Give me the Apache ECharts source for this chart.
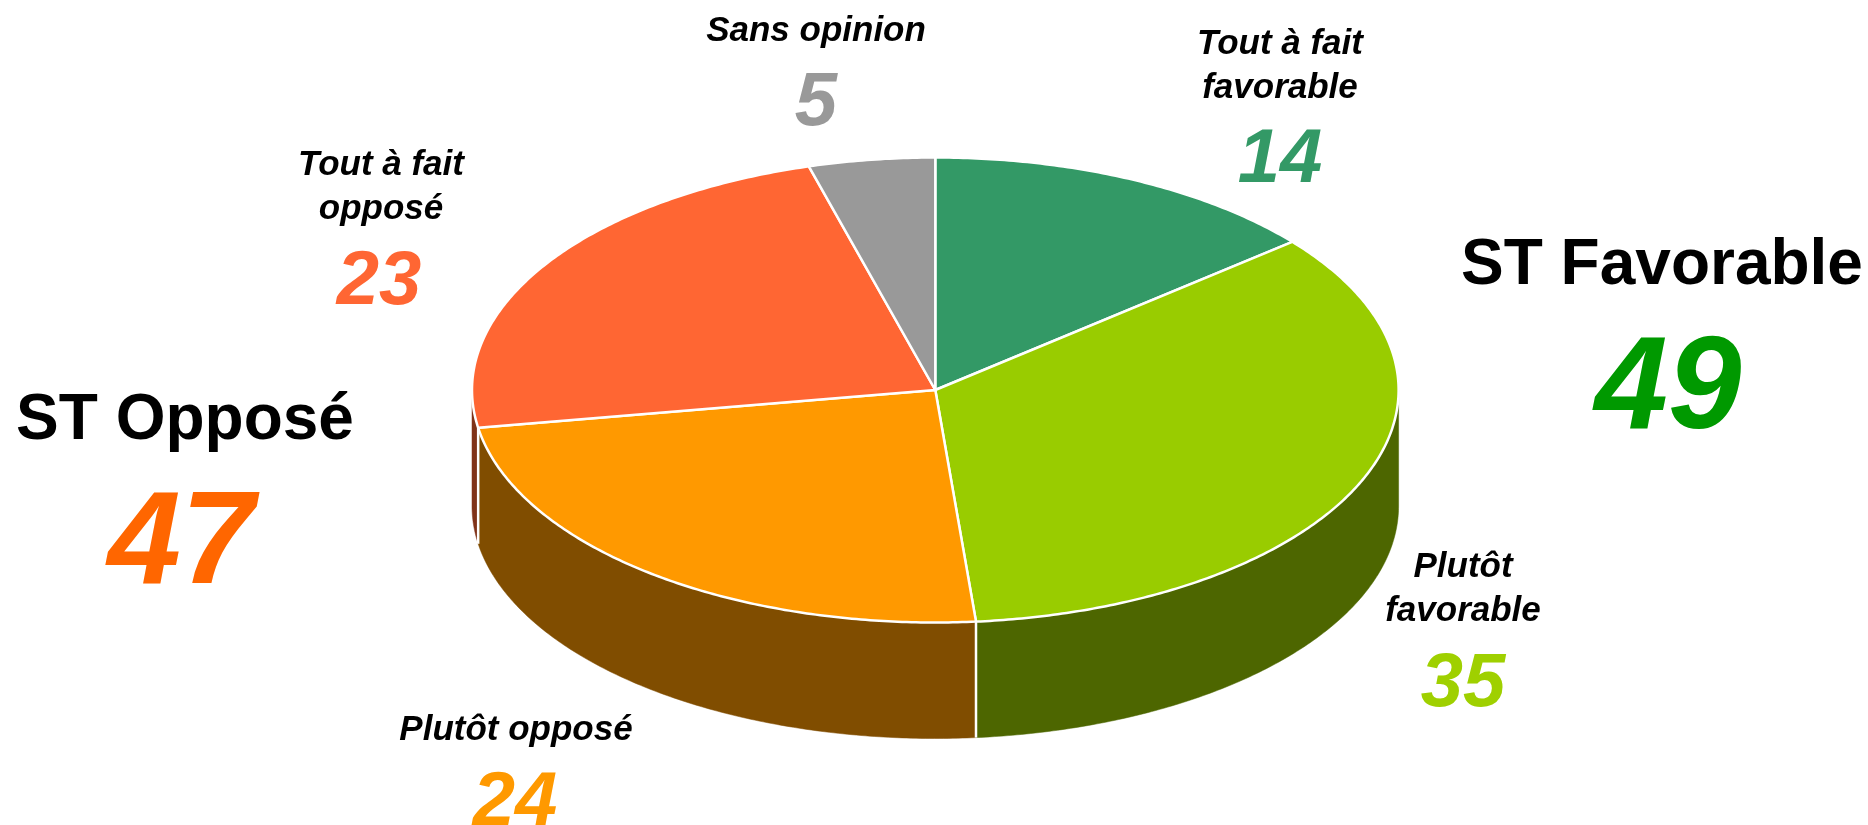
<!DOCTYPE html>
<html><head><meta charset="utf-8">
<style>html,body{margin:0;padding:0;background:#fff}#c{width:1868px;height:825px}</style>
<script src="https://cdn.jsdelivr.net/npm/echarts@6/dist/echarts.min.js"></script>
</head><body><div id="c"></div>
<script>
// data
var categories = ['Tout à fait\nfavorable', 'Plutôt\nfavorable', 'Plutôt opposé', 'Tout à fait\nopposé', 'Sans opinion'];
var values = [14, 35, 24, 23, 5];          // printed numbers
var shares = [14, 34.6, 23.8, 23.2, 4.4];  // slice sizes (unrounded)
var groupNames = ['ST Favorable', 'ST Opposé'];
var groupValues = [49, 47];
// style
var topColors = ['#339966', '#99CC00', '#FF9900', '#FF6633', '#999999'];
var sideColors = ['#1A4D33', '#4D6600', '#804D00', '#803319', '#4D4D4D'];
var numberColors = ['#339966', '#9FD000', '#FF9900', '#FF6633', '#999999'];
var groupColors = ['#009900', '#FF6600'];
// layout
var CX = 935.3, CY = 390, RX = 463.3, RY = 232.5, DEPTH = 116;
var labelPos = [[1280, 66], [1463, 589], [516, 730], [381, 187], [816, 31]];
var numberPos = [[1280, 161], [1463, 685], [515, 804], [379, 283], [816, 104]];
var groupLabelPos = [[1662, 266], [185, 421]];
var groupNumberPos = [[1668, 392], [181, 547]];
var FONT = '"Liberation Sans", Arial, sans-serif';

var total = shares.reduce(function (a, b) { return a + b; }, 0);
var starts = [], acc = 0;
shares.forEach(function (v) { starts.push(acc); acc += v; });
function ang(v) { return v / total * 2 * Math.PI; }
function pt(t, dy) { return [CX + RX * Math.sin(t), CY - RY * Math.cos(t) + (dy || 0)]; }
function arc(a, b, dy) {
  var n = Math.max(2, Math.ceil((b - a) / 0.01)), out = [];
  for (var i = 0; i <= n; i++) out.push(pt(a + (b - a) * i / n, dy));
  return out;
}
function renderTop(params, api) {
  var i = params.dataIndex;
  var a = ang(api.value(1)), b = a + ang(api.value(2));
  return {
    type: 'polygon',
    shape: { points: [[CX, CY]].concat(arc(a, b)) },
    style: { fill: topColors[i], stroke: '#fff', lineWidth: 2.5, lineJoin: 'round' }
  };
}
function renderSide(params, api) {
  var i = params.dataIndex;
  var a = Math.max(ang(api.value(1)), Math.PI / 2), b = Math.min(ang(api.value(1)) + ang(api.value(2)), 1.5 * Math.PI);
  if (b <= a) return null;
  var children = [{
    type: 'polygon',
    shape: { points: arc(a, b).concat(arc(a, b, DEPTH).reverse()) },
    style: { fill: sideColors[i], stroke: sideColors[i], lineWidth: 0.5 }
  }];
  if (a > Math.PI / 2 + 1e-6) {
    var p = pt(a), q = pt(a, DEPTH);
    children.push({ type: 'line', shape: { x1: p[0], y1: p[1], x2: q[0], y2: q[1] }, style: { stroke: '#fff', lineWidth: 2.5 } });
  }
  return { type: 'group', children: children };
}
var sliceData = shares.map(function (v, i) { return { name: categories[i], value: [i, starts[i], v] }; });
function txt(x, y, text, size, color, italic, lh) {
  return { type: 'text', x: x, y: y, z: 10, style: {
    text: text, x: 0, y: 0, align: 'center', verticalAlign: 'middle',
    font: (italic ? 'italic ' : '') + 'bold ' + size + 'px ' + FONT, lineHeight: lh || size, fill: color } };
}
var graphics = [];
categories.forEach(function (c, i) {
  graphics.push(txt(labelPos[i][0], labelPos[i][1], c, 35, '#000', true, 44));
  graphics.push(txt(numberPos[i][0], numberPos[i][1], String(values[i]), 76, numberColors[i], true));
});
groupNames.forEach(function (c, i) {
  graphics.push(txt(groupLabelPos[i][0], groupLabelPos[i][1], c, 64, '#000', false));
  graphics.push(txt(groupNumberPos[i][0], groupNumberPos[i][1], String(groupValues[i]), 132, groupColors[i], true));
});
var chart = echarts.init(document.getElementById('c'), null, { renderer: 'canvas' });
chart.setOption({
  animation: false,
  backgroundColor: '#fff',
  series: [
    { type: 'custom', coordinateSystem: 'none', silent: true, z: 1, renderItem: renderSide, data: sliceData },
    { type: 'custom', coordinateSystem: 'none', silent: true, z: 2, renderItem: renderTop, data: sliceData }
  ],
  graphic: graphics
});
</script></body></html>
